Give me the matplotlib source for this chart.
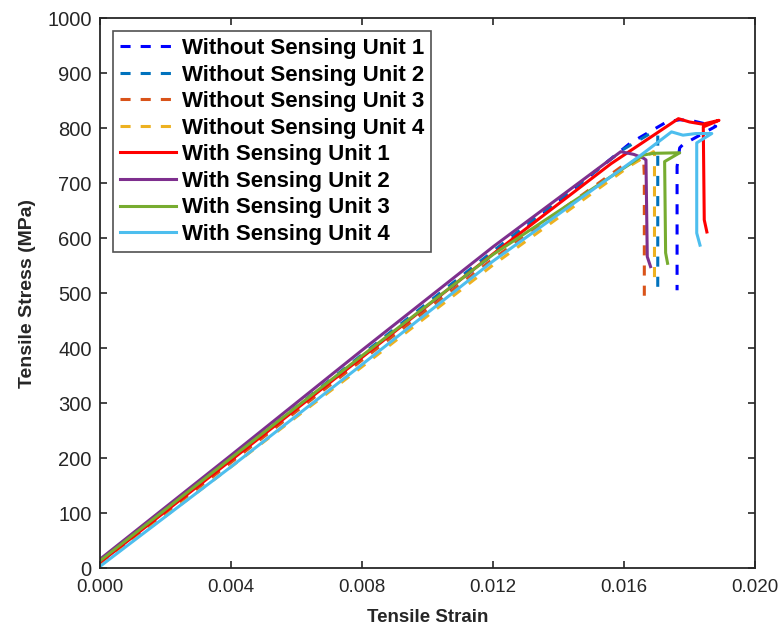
"""Tensile stress-strain curves, with and without the embedded sensing unit."""

import matplotlib

matplotlib.use("Agg")

import matplotlib.pyplot as plt

plt.rcParams["font.family"] = ["Liberation Sans", "DejaVu Sans"]

# strain / stress (MPa) for each specimen
strain_wo1 = [0.0, 0.004, 0.008, 0.012, 0.0162, 0.0173, 0.0177, 0.0181, 0.0188, 0.0178, 0.0177, 0.01762, 0.01762]
stress_wo1 = [9, 195, 382, 570, 773, 811, 815, 813, 803, 770, 764, 730, 505]

strain_wo2 = [0.0, 0.004, 0.008, 0.012, 0.0160, 0.0168, 0.01703, 0.01703]
stress_wo2 = [12, 199, 388, 576, 762, 790, 788, 505]

strain_wo3 = [0.0, 0.004, 0.008, 0.012, 0.0160, 0.0166, 0.01662, 0.01662]
stress_wo3 = [8, 192, 378, 562, 733, 745, 711, 493]

strain_wo4 = [0.0, 0.004, 0.008, 0.012, 0.0162, 0.0169, 0.01693, 0.01693]
stress_wo4 = [5, 184, 366, 551, 732, 757, 752, 524]

strain_w1 = [0.0, 0.004, 0.008, 0.012, 0.0156, 0.01766, 0.0180, 0.0184, 0.0189, 0.01842, 0.01845, 0.01853]
stress_w1 = [10, 196, 383, 571, 735, 817, 811, 807, 814, 802, 633, 611]

strain_w2 = [0.0, 0.004, 0.008, 0.012, 0.0159, 0.0163, 0.0166, 0.01667, 0.01671, 0.01681]
stress_w2 = [16, 205, 396, 584, 757, 752, 745, 742, 566, 548]

strain_w3 = [0.0, 0.004, 0.008, 0.012, 0.0166, 0.0169, 0.0177, 0.01724, 0.01727, 0.01733]
stress_w3 = [13, 200, 386, 570, 751, 754, 755, 739, 573, 554]

strain_w4 = [0.0, 0.004, 0.008, 0.012, 0.0165, 0.01745, 0.0178, 0.0182, 0.01868, 0.01822, 0.01822, 0.01832]
stress_w4 = [3, 184, 370, 558, 750, 793, 787, 790, 790, 773, 609, 587]

labels = [
    "Without Sensing Unit 1",
    "Without Sensing Unit 2",
    "Without Sensing Unit 3",
    "Without Sensing Unit 4",
    "With Sensing Unit 1",
    "With Sensing Unit 2",
    "With Sensing Unit 3",
    "With Sensing Unit 4",
]
colors = ["#0000FF", "#0072BD", "#D95319", "#EDB120",
          "#FF0000", "#7E2F8E", "#77AC30", "#4DBEEE"]

series = [
    (strain_wo1, stress_wo1),
    (strain_wo2, stress_wo2),
    (strain_wo3, stress_wo3),
    (strain_wo4, stress_wo4),
    (strain_w1, stress_w1),
    (strain_w2, stress_w2),
    (strain_w3, stress_w3),
    (strain_w4, stress_w4),
]

x_ticks = [0.000, 0.004, 0.008, 0.012, 0.016, 0.020]
y_ticks = list(range(0, 1001, 100))

fig = plt.figure(figsize=(7.82, 6.30), dpi=100)
ax = fig.add_axes([0.1279, 0.0984, 0.8376, 0.873])

for idx, ((xs, ys), label, color) in enumerate(zip(series, labels, colors)):
    if idx < 4:
        ax.plot(xs, ys, color=color, lw=2.2, ls=(0, (3.3, 3.3)), label=label)
    else:
        ax.plot(xs, ys, color=color, lw=2.2, label=label)

ax.set_xlim(0, 0.020)
ax.set_ylim(0, 1000)
ax.set_xticks(x_ticks)
ax.set_xticklabels([f"{t:.3f}" for t in x_ticks], fontsize=13.5)
ax.set_yticks(y_ticks)
ax.set_yticklabels([str(t) for t in y_ticks], fontsize=14.5)

ax.tick_params(direction="in", length=5, width=1.2, top=True, right=True,
               colors="#262626")
ax.tick_params(axis="x", pad=8)
ax.tick_params(axis="y", pad=6)
for spine in ax.spines.values():
    spine.set_linewidth(1.3)
    spine.set_color("#262626")

ax.set_xlabel("Tensile Strain", fontsize=13.5, fontweight="bold",
              labelpad=9, color="#262626")
ax.set_ylabel("Tensile Stress (MPa)", fontsize=14, fontweight="bold",
              labelpad=8, color="#262626")

legend = ax.legend(loc="upper left", prop={"weight": "bold", "size": 16},
                   frameon=True, fancybox=False, edgecolor="#262626",
                   borderpad=0.3, labelspacing=0.25, handlelength=2.5,
                   handletextpad=0.3, borderaxespad=0.6)
legend.get_frame().set_linewidth(1.2)

fig.savefig("out.png", dpi=100)
